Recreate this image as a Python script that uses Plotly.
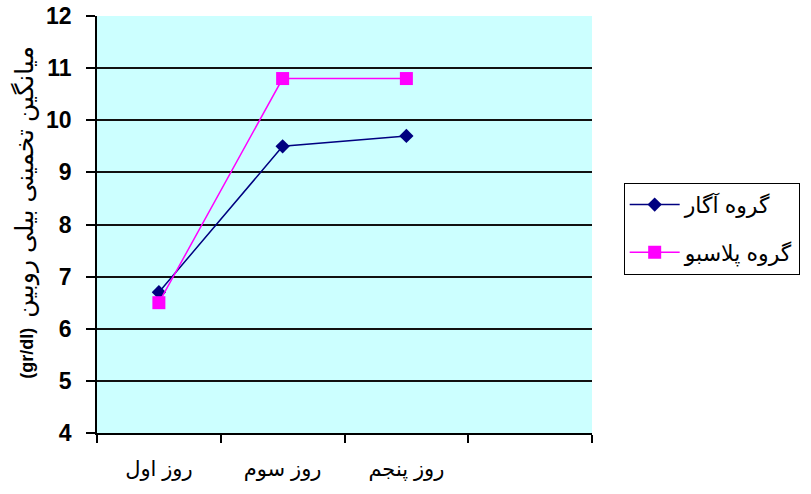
import plotly.graph_objects as go

# Measurement days (4th slot left empty on the axis)
days = ["روز اول", "روز سوم", "روز پنجم"]
empty_slot = " "

# Mean estimated bilirubin (gr/dl) per group
agar_values = [6.7, 9.5, 9.7]
placebo_values = [6.5, 10.8, 10.8]

series_names = ["گروه آگار", "گروه پلاسبو"]
y_title_fa = "میانگین تخمینی بیلی روبین"
y_title_unit = "(gr/dl)"
y_ticks = [4, 5, 6, 7, 8, 9, 10, 11, 12]

fig = go.Figure()
fig.add_trace(go.Scatter(
    x=days, y=agar_values, name=series_names[0], mode="lines+markers",
    line=dict(color="#000080", width=1.5),
    marker=dict(symbol="diamond", size=11, color="#000080"),
    legendgroup="a",
))
fig.add_trace(go.Scatter(
    x=days, y=placebo_values, name=series_names[1], mode="lines+markers",
    line=dict(color="#ff00ff", width=1.5),
    marker=dict(symbol="square", size=13, color="#ff00ff"),
    legendgroup="b",
))

fig.update_layout(
    width=811, height=494,
    margin=dict(l=97, r=219, t=16, b=61, autoexpand=False),
    paper_bgcolor="white",
    plot_bgcolor="#ccffff",
    font=dict(family="Liberation Sans, Arial, DejaVu Sans", color="black"),
    showlegend=True,
    legend=dict(
        x=1.064, y=0.6, xanchor="left", yanchor="top",
        bordercolor="black", borderwidth=1, bgcolor="white",
        font=dict(size=22, family="Liberation Sans, DejaVu Sans"),
        tracegroupgap=16, itemwidth=50,
    ),
    xaxis=dict(
        type="category", categoryorder="array",
        categoryarray=days + [empty_slot],
        range=[-0.5, 3.5], tickson="boundaries",
        ticks="outside", ticklen=8, tickcolor="black", tickwidth=1.5,
        showline=True, linecolor="black", linewidth=1.5,
        showgrid=False, zeroline=False,
        tickfont=dict(size=21, family="Liberation Sans, DejaVu Sans"),
        ticklabelstandoff=16,
    ),
    yaxis=dict(
        range=[4, 12], tickvals=y_ticks,
        ticks="outside", ticklen=9, tickcolor="black", tickwidth=1.5,
        showline=True, linecolor="black", linewidth=1.5,
        showgrid=True, gridcolor="#111111", gridwidth=1.5,
        zeroline=False,
        tickfont=dict(size=23, family="Liberation Sans, Arial", weight="bold"),
        ticklabelstandoff=10,
    ),
    annotations=[dict(
        # unit first: each styled run is laid out left to right in turn
        text=f'<b>{y_title_unit}</b>  <span style="font-size:25px">{y_title_fa}</span>',
        textangle=-90, xref="paper", yref="paper",
        x=-0.146, y=0.53, xanchor="center", yanchor="middle",
        showarrow=False, font=dict(size=18, family="Liberation Sans, DejaVu Sans"),
    )],
)

fig.write_html("out.html")
